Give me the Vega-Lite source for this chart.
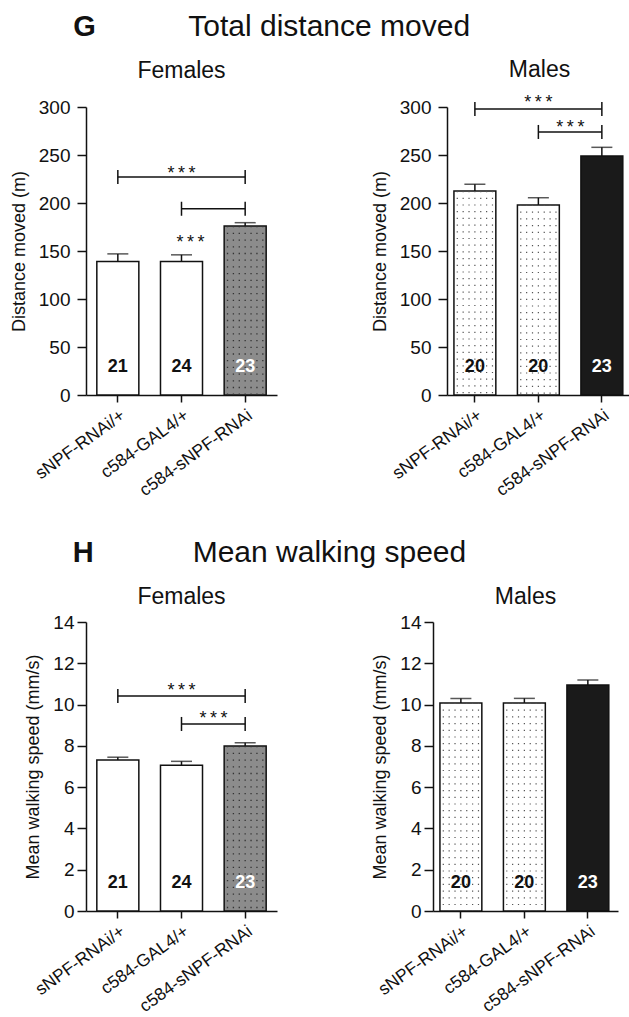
{
 "$schema": "https://vega.github.io/schema/vega-lite/v6.json",
 "padding": {"left": 10, "top": 11, "right": 0, "bottom": 0},
 "config": {
  "font": "Liberation Sans",
  "view": {"stroke": null},
  "axis": {"domainColor": "#111", "domainWidth": 1.5, "tickColor": "#111", "tickWidth": 1.5, "labelColor": "#111", "titleColor": "#111", "labelFont": "Liberation Sans", "titleFont": "Liberation Sans", "grid": false, "titleFontWeight": "normal"},
  "axisX": {"labelAngle": -36, "labelAlign": "right", "labelBaseline": "top", "labelFontSize": 17.5, "labelPadding": 4, "tickSize": 7, "labelLimit": 0, "labelOverlap": false},
  "axisY": {"labelFontSize": 19, "titleFontSize": 18, "labelPadding": 3, "titlePadding": 10},
  "title": {"font": "Liberation Sans", "color": "#111", "fontWeight": "normal"},
  "text": {"font": "Liberation Sans"}
 },
 "spacing": 38,
 "resolve": {"scale": {"color": "independent"}},
 "vconcat": [
  {
   "title": {"text": "G", "anchor": "start", "fontSize": 29, "fontWeight": "bold", "dx": 63, "dy": 30, "offset": 0},
   "resolve": {"scale": {"color": "independent"}},
   "vconcat": [
    {
     "title": {"text": "Total distance moved", "fontSize": 30, "anchor": "middle", "dx": 8, "offset": 17},
     "spacing": 94,
     "resolve": {"scale": {"color": "independent"}},
     "hconcat": [
      {
       "width": 191, "height": 288,
       "title": {"text": "Females", "fontSize": 23, "offset": 15, "frame": "group"},
       "data": {"values": [
        {"g": "sNPF-RNAi/+", "mean": 139, "upper": 147, "n": "21"},
        {"g": "c584-GAL4/+", "mean": 139, "upper": 146, "n": "24"},
        {"g": "c584-sNPF-RNAi", "mean": 176, "upper": 179.5, "n": "23"}
       ]},
       "encoding": {"x": {"field": "g", "type": "nominal", "scale": {"domain": ["sNPF-RNAi/+", "c584-GAL4/+", "c584-sNPF-RNAi"], "paddingInner": 0.34, "paddingOuter": 0.17}, "axis": {"title": null}}},
       "layer": [
        {"mark": {"type": "bar", "stroke": "#111", "strokeWidth": 1.5},
         "encoding": {
          "y": {"field": "mean", "type": "quantitative", "scale": {"domain": [0, 300], "nice": false},
                "axis": {"title": "Distance moved (m)", "values": [0, 25, 50, 75, 100, 125, 150, 175, 200, 225, 250, 275, 300], "labelExpr": "datum.value % 50 === 0 ? datum.label : ''", "tickSize": {"condition": {"test": "datum.value % 50 === 0", "value": 9}, "value": 5}, "labelPadding": 7}},
          "color": {"field": "g", "type": "nominal", "scale": {"domain": ["sNPF-RNAi/+", "c584-GAL4/+", "c584-sNPF-RNAi"], "range": ["#ffffff", "#ffffff", "#8c8c8c"]}, "legend": null}}},
        {"transform": [{"filter": "datum.g === 'c584-sNPF-RNAi'"}], "mark": {"type": "rule", "color": "#333", "strokeWidth": 1.3, "strokeDash": [1.3, 5.4]}, "encoding": {"x": {"field": "g", "type": "nominal", "bandPosition": 0.08}, "y": {"field": "mean", "type": "quantitative"}, "y2": {"datum": 0}}},
        {"transform": [{"filter": "datum.g === 'c584-sNPF-RNAi'"}], "mark": {"type": "rule", "color": "#333", "strokeWidth": 1.3, "strokeDash": [1.3, 5.4]}, "encoding": {"x": {"field": "g", "type": "nominal", "bandPosition": 0.22}, "y": {"field": "mean", "type": "quantitative"}, "y2": {"datum": 0}}},
        {"transform": [{"filter": "datum.g === 'c584-sNPF-RNAi'"}], "mark": {"type": "rule", "color": "#333", "strokeWidth": 1.3, "strokeDash": [1.3, 5.4]}, "encoding": {"x": {"field": "g", "type": "nominal", "bandPosition": 0.36}, "y": {"field": "mean", "type": "quantitative"}, "y2": {"datum": 0}}},
        {"transform": [{"filter": "datum.g === 'c584-sNPF-RNAi'"}], "mark": {"type": "rule", "color": "#333", "strokeWidth": 1.3, "strokeDash": [1.3, 5.4]}, "encoding": {"x": {"field": "g", "type": "nominal", "bandPosition": 0.5}, "y": {"field": "mean", "type": "quantitative"}, "y2": {"datum": 0}}},
        {"transform": [{"filter": "datum.g === 'c584-sNPF-RNAi'"}], "mark": {"type": "rule", "color": "#333", "strokeWidth": 1.3, "strokeDash": [1.3, 5.4]}, "encoding": {"x": {"field": "g", "type": "nominal", "bandPosition": 0.64}, "y": {"field": "mean", "type": "quantitative"}, "y2": {"datum": 0}}},
        {"transform": [{"filter": "datum.g === 'c584-sNPF-RNAi'"}], "mark": {"type": "rule", "color": "#333", "strokeWidth": 1.3, "strokeDash": [1.3, 5.4]}, "encoding": {"x": {"field": "g", "type": "nominal", "bandPosition": 0.78}, "y": {"field": "mean", "type": "quantitative"}, "y2": {"datum": 0}}},
        {"transform": [{"filter": "datum.g === 'c584-sNPF-RNAi'"}], "mark": {"type": "rule", "color": "#333", "strokeWidth": 1.3, "strokeDash": [1.3, 5.4]}, "encoding": {"x": {"field": "g", "type": "nominal", "bandPosition": 0.92}, "y": {"field": "mean", "type": "quantitative"}, "y2": {"datum": 0}}},
        {"mark": {"type": "rule", "color": "#111", "strokeWidth": 1.5}, "encoding": {"y": {"field": "mean", "type": "quantitative"}, "y2": {"field": "upper"}}},
        {"mark": {"type": "tick", "color": "#111", "thickness": 1.5, "size": 21}, "encoding": {"y": {"field": "upper", "type": "quantitative"}}},
        {"mark": {"type": "text", "fontSize": 18, "fontWeight": "bold", "baseline": "middle"}, "encoding": {"y": {"datum": 29, "type": "quantitative"}, "text": {"field": "n"}, "color": {"condition": {"test": "datum.g === 'c584-sNPF-RNAi'", "value": "#ffffff"}, "value": "#111"}}},
        {"data": {"values": [{"g": "sNPF-RNAi/+", "g2": "c584-sNPF-RNAi", "y": 227}, {"g": "c584-GAL4/+", "g2": "c584-sNPF-RNAi", "y": 194}]},
         "mark": {"type": "rule", "color": "#111", "strokeWidth": 1.5}, "encoding": {"x": {"field": "g", "type": "nominal"}, "x2": {"field": "g2"}, "y": {"field": "y", "type": "quantitative"}}},
        {"data": {"values": [{"g": "sNPF-RNAi/+", "lo": 219.7, "hi": 234.3}, {"g": "c584-sNPF-RNAi", "lo": 219.7, "hi": 234.3}, {"g": "c584-GAL4/+", "lo": 186.7, "hi": 201.3}, {"g": "c584-sNPF-RNAi", "lo": 186.7, "hi": 201.3}]},
         "mark": {"type": "rule", "color": "#111", "strokeWidth": 1.5}, "encoding": {"x": {"field": "g", "type": "nominal"}, "y": {"field": "lo", "type": "quantitative"}, "y2": {"field": "hi"}}},
        {"data": {"values": [{"g": "c584-GAL4/+", "y": 225}]},
         "mark": {"type": "text", "text": "*\u2009*\u2009*", "fontSize": 18, "baseline": "alphabetic", "color": "#111"}, "encoding": {"x": {"field": "g", "type": "nominal"}, "y": {"field": "y", "type": "quantitative"}}},
        {"data": {"values": [{"g": "c584-GAL4/+", "y": 153}]},
         "mark": {"type": "text", "text": "*\u2009*\u2009*", "fontSize": 18, "baseline": "alphabetic", "color": "#111", "dx": 9}, "encoding": {"x": {"field": "g", "type": "nominal"}, "y": {"field": "y", "type": "quantitative"}}}
       ]
      },
      {
       "width": 185, "height": 288,
       "title": {"text": "Males", "fontSize": 23, "offset": 12, "frame": "group"},
       "data": {"values": [
        {"g": "sNPF-RNAi/+", "mean": 212.5, "upper": 219.5, "n": "20"},
        {"g": "c584-GAL4/+", "mean": 198, "upper": 205.5, "n": "20"},
        {"g": "c584-sNPF-RNAi", "mean": 249, "upper": 258, "n": "23"}
       ]},
       "encoding": {"x": {"field": "g", "type": "nominal", "scale": {"domain": ["sNPF-RNAi/+", "c584-GAL4/+", "c584-sNPF-RNAi"], "paddingInner": 0.34, "paddingOuter": 0.127, "align": 0.43}, "axis": {"title": null}}},
       "layer": [
        {"mark": {"type": "bar", "stroke": "#111", "strokeWidth": 1.5},
         "encoding": {
          "y": {"field": "mean", "type": "quantitative", "scale": {"domain": [0, 300], "nice": false},
                "axis": {"title": "Distance moved (m)", "values": [0, 25, 50, 75, 100, 125, 150, 175, 200, 225, 250, 275, 300], "labelExpr": "datum.value % 50 === 0 ? datum.label : ''", "tickSize": {"condition": {"test": "datum.value % 50 === 0", "value": 9}, "value": 5}, "labelPadding": 7}},
          "color": {"field": "g", "type": "nominal", "scale": {"domain": ["sNPF-RNAi/+", "c584-GAL4/+", "c584-sNPF-RNAi"], "range": ["#ffffff", "#ffffff", "#1a1a1a"]}, "legend": null}}},
        {"transform": [{"filter": "datum.g !== 'c584-sNPF-RNAi'"}], "mark": {"type": "rule", "color": "#555", "strokeWidth": 1.2, "strokeDash": [1.2, 5.5]}, "encoding": {"x": {"field": "g", "type": "nominal", "bandPosition": 0.08}, "y": {"field": "mean", "type": "quantitative"}, "y2": {"datum": 0}}},
        {"transform": [{"filter": "datum.g !== 'c584-sNPF-RNAi'"}], "mark": {"type": "rule", "color": "#555", "strokeWidth": 1.2, "strokeDash": [1.2, 5.5]}, "encoding": {"x": {"field": "g", "type": "nominal", "bandPosition": 0.22}, "y": {"field": "mean", "type": "quantitative"}, "y2": {"datum": 0}}},
        {"transform": [{"filter": "datum.g !== 'c584-sNPF-RNAi'"}], "mark": {"type": "rule", "color": "#555", "strokeWidth": 1.2, "strokeDash": [1.2, 5.5]}, "encoding": {"x": {"field": "g", "type": "nominal", "bandPosition": 0.36}, "y": {"field": "mean", "type": "quantitative"}, "y2": {"datum": 0}}},
        {"transform": [{"filter": "datum.g !== 'c584-sNPF-RNAi'"}], "mark": {"type": "rule", "color": "#555", "strokeWidth": 1.2, "strokeDash": [1.2, 5.5]}, "encoding": {"x": {"field": "g", "type": "nominal", "bandPosition": 0.5}, "y": {"field": "mean", "type": "quantitative"}, "y2": {"datum": 0}}},
        {"transform": [{"filter": "datum.g !== 'c584-sNPF-RNAi'"}], "mark": {"type": "rule", "color": "#555", "strokeWidth": 1.2, "strokeDash": [1.2, 5.5]}, "encoding": {"x": {"field": "g", "type": "nominal", "bandPosition": 0.64}, "y": {"field": "mean", "type": "quantitative"}, "y2": {"datum": 0}}},
        {"transform": [{"filter": "datum.g !== 'c584-sNPF-RNAi'"}], "mark": {"type": "rule", "color": "#555", "strokeWidth": 1.2, "strokeDash": [1.2, 5.5]}, "encoding": {"x": {"field": "g", "type": "nominal", "bandPosition": 0.78}, "y": {"field": "mean", "type": "quantitative"}, "y2": {"datum": 0}}},
        {"transform": [{"filter": "datum.g !== 'c584-sNPF-RNAi'"}], "mark": {"type": "rule", "color": "#555", "strokeWidth": 1.2, "strokeDash": [1.2, 5.5]}, "encoding": {"x": {"field": "g", "type": "nominal", "bandPosition": 0.92}, "y": {"field": "mean", "type": "quantitative"}, "y2": {"datum": 0}}},
        {"mark": {"type": "rule", "color": "#111", "strokeWidth": 1.5}, "encoding": {"y": {"field": "mean", "type": "quantitative"}, "y2": {"field": "upper"}}},
        {"mark": {"type": "tick", "color": "#111", "thickness": 1.5, "size": 21}, "encoding": {"y": {"field": "upper", "type": "quantitative"}}},
        {"mark": {"type": "text", "fontSize": 18, "fontWeight": "bold", "baseline": "middle"}, "encoding": {"y": {"datum": 29, "type": "quantitative"}, "text": {"field": "n"}, "color": {"condition": {"test": "datum.g === 'c584-sNPF-RNAi'", "value": "#ffffff"}, "value": "#111"}}},
        {"data": {"values": [{"g": "sNPF-RNAi/+", "g2": "c584-sNPF-RNAi", "y": 298}, {"g": "c584-GAL4/+", "g2": "c584-sNPF-RNAi", "y": 274}]},
         "mark": {"type": "rule", "color": "#111", "strokeWidth": 1.5}, "encoding": {"x": {"field": "g", "type": "nominal"}, "x2": {"field": "g2"}, "y": {"field": "y", "type": "quantitative"}}},
        {"data": {"values": [{"g": "sNPF-RNAi/+", "lo": 290.7, "hi": 305.3}, {"g": "c584-sNPF-RNAi", "lo": 290.7, "hi": 305.3}, {"g": "c584-GAL4/+", "lo": 266.7, "hi": 281.3}, {"g": "c584-sNPF-RNAi", "lo": 266.7, "hi": 281.3}]},
         "mark": {"type": "rule", "color": "#111", "strokeWidth": 1.5}, "encoding": {"x": {"field": "g", "type": "nominal"}, "y": {"field": "lo", "type": "quantitative"}, "y2": {"field": "hi"}}},
        {"data": {"values": [{"g": "c584-GAL4/+", "y": 299}]},
         "mark": {"type": "text", "text": "*\u2009*\u2009*", "fontSize": 18, "baseline": "alphabetic", "color": "#111"}, "encoding": {"x": {"field": "g", "type": "nominal"}, "y": {"field": "y", "type": "quantitative"}}},
        {"data": {"values": [{"g": "c584-GAL4/+", "y": 273}]},
         "mark": {"type": "text", "text": "*\u2009*\u2009*", "fontSize": 18, "baseline": "alphabetic", "color": "#111", "dx": 32}, "encoding": {"x": {"field": "g", "type": "nominal"}, "y": {"field": "y", "type": "quantitative"}}}
       ]
      }
     ]
    }
   ]
  },
  {
   "title": {"text": "H", "anchor": "start", "fontSize": 29, "fontWeight": "bold", "dx": 48, "dy": 30, "offset": 0},
   "resolve": {"scale": {"color": "independent"}},
   "vconcat": [
    {
     "title": {"text": "Mean walking speed", "fontSize": 30, "anchor": "middle", "dx": 8, "offset": 18},
     "spacing": 94,
     "resolve": {"scale": {"color": "independent"}},
     "hconcat": [
      {
       "width": 191, "height": 289,
       "title": {"text": "Females", "fontSize": 23, "offset": 4, "frame": "group"},
       "data": {"values": [
        {"g": "sNPF-RNAi/+", "mean": 7.32, "upper": 7.45, "n": "21"},
        {"g": "c584-GAL4/+", "mean": 7.06, "upper": 7.25, "n": "24"},
        {"g": "c584-sNPF-RNAi", "mean": 7.99, "upper": 8.15, "n": "23"}
       ]},
       "encoding": {"x": {"field": "g", "type": "nominal", "scale": {"domain": ["sNPF-RNAi/+", "c584-GAL4/+", "c584-sNPF-RNAi"], "paddingInner": 0.34, "paddingOuter": 0.17}, "axis": {"title": null}}},
       "layer": [
        {"mark": {"type": "bar", "stroke": "#111", "strokeWidth": 1.5},
         "encoding": {
          "y": {"field": "mean", "type": "quantitative", "scale": {"domain": [0, 14], "nice": false},
                "axis": {"title": "Mean walking speed (mm/s)", "values": [0, 2, 4, 6, 8, 10, 12, 14], "tickSize": 9}},
          "color": {"field": "g", "type": "nominal", "scale": {"domain": ["sNPF-RNAi/+", "c584-GAL4/+", "c584-sNPF-RNAi"], "range": ["#ffffff", "#ffffff", "#8c8c8c"]}, "legend": null}}},
        {"transform": [{"filter": "datum.g === 'c584-sNPF-RNAi'"}], "mark": {"type": "rule", "color": "#333", "strokeWidth": 1.3, "strokeDash": [1.3, 5.4]}, "encoding": {"x": {"field": "g", "type": "nominal", "bandPosition": 0.08}, "y": {"field": "mean", "type": "quantitative"}, "y2": {"datum": 0}}},
        {"transform": [{"filter": "datum.g === 'c584-sNPF-RNAi'"}], "mark": {"type": "rule", "color": "#333", "strokeWidth": 1.3, "strokeDash": [1.3, 5.4]}, "encoding": {"x": {"field": "g", "type": "nominal", "bandPosition": 0.22}, "y": {"field": "mean", "type": "quantitative"}, "y2": {"datum": 0}}},
        {"transform": [{"filter": "datum.g === 'c584-sNPF-RNAi'"}], "mark": {"type": "rule", "color": "#333", "strokeWidth": 1.3, "strokeDash": [1.3, 5.4]}, "encoding": {"x": {"field": "g", "type": "nominal", "bandPosition": 0.36}, "y": {"field": "mean", "type": "quantitative"}, "y2": {"datum": 0}}},
        {"transform": [{"filter": "datum.g === 'c584-sNPF-RNAi'"}], "mark": {"type": "rule", "color": "#333", "strokeWidth": 1.3, "strokeDash": [1.3, 5.4]}, "encoding": {"x": {"field": "g", "type": "nominal", "bandPosition": 0.5}, "y": {"field": "mean", "type": "quantitative"}, "y2": {"datum": 0}}},
        {"transform": [{"filter": "datum.g === 'c584-sNPF-RNAi'"}], "mark": {"type": "rule", "color": "#333", "strokeWidth": 1.3, "strokeDash": [1.3, 5.4]}, "encoding": {"x": {"field": "g", "type": "nominal", "bandPosition": 0.64}, "y": {"field": "mean", "type": "quantitative"}, "y2": {"datum": 0}}},
        {"transform": [{"filter": "datum.g === 'c584-sNPF-RNAi'"}], "mark": {"type": "rule", "color": "#333", "strokeWidth": 1.3, "strokeDash": [1.3, 5.4]}, "encoding": {"x": {"field": "g", "type": "nominal", "bandPosition": 0.78}, "y": {"field": "mean", "type": "quantitative"}, "y2": {"datum": 0}}},
        {"transform": [{"filter": "datum.g === 'c584-sNPF-RNAi'"}], "mark": {"type": "rule", "color": "#333", "strokeWidth": 1.3, "strokeDash": [1.3, 5.4]}, "encoding": {"x": {"field": "g", "type": "nominal", "bandPosition": 0.92}, "y": {"field": "mean", "type": "quantitative"}, "y2": {"datum": 0}}},
        {"mark": {"type": "rule", "color": "#111", "strokeWidth": 1.5}, "encoding": {"y": {"field": "mean", "type": "quantitative"}, "y2": {"field": "upper"}}},
        {"mark": {"type": "tick", "color": "#111", "thickness": 1.5, "size": 21}, "encoding": {"y": {"field": "upper", "type": "quantitative"}}},
        {"mark": {"type": "text", "fontSize": 18, "fontWeight": "bold", "baseline": "middle"}, "encoding": {"y": {"datum": 1.35, "type": "quantitative"}, "text": {"field": "n"}, "color": {"condition": {"test": "datum.g === 'c584-sNPF-RNAi'", "value": "#ffffff"}, "value": "#111"}}},
        {"data": {"values": [{"g": "sNPF-RNAi/+", "g2": "c584-sNPF-RNAi", "y": 10.42}, {"g": "c584-GAL4/+", "g2": "c584-sNPF-RNAi", "y": 9.06}]},
         "mark": {"type": "rule", "color": "#111", "strokeWidth": 1.5}, "encoding": {"x": {"field": "g", "type": "nominal"}, "x2": {"field": "g2"}, "y": {"field": "y", "type": "quantitative"}}},
        {"data": {"values": [{"g": "sNPF-RNAi/+", "lo": 10.08, "hi": 10.76}, {"g": "c584-sNPF-RNAi", "lo": 10.08, "hi": 10.76}, {"g": "c584-GAL4/+", "lo": 8.72, "hi": 9.4}, {"g": "c584-sNPF-RNAi", "lo": 8.72, "hi": 9.4}]},
         "mark": {"type": "rule", "color": "#111", "strokeWidth": 1.5}, "encoding": {"x": {"field": "g", "type": "nominal"}, "y": {"field": "lo", "type": "quantitative"}, "y2": {"field": "hi"}}},
        {"data": {"values": [{"g": "c584-GAL4/+", "y": 10.42}]},
         "mark": {"type": "text", "text": "*\u2009*\u2009*", "fontSize": 18, "baseline": "alphabetic", "color": "#111"}, "encoding": {"x": {"field": "g", "type": "nominal"}, "y": {"field": "y", "type": "quantitative"}}},
        {"data": {"values": [{"g": "c584-GAL4/+", "y": 9.06}]},
         "mark": {"type": "text", "text": "*\u2009*\u2009*", "fontSize": 18, "baseline": "alphabetic", "color": "#111", "dx": 32}, "encoding": {"x": {"field": "g", "type": "nominal"}, "y": {"field": "y", "type": "quantitative"}}}
       ]
      },
      {
       "width": 185, "height": 289,
       "title": {"text": "Males", "fontSize": 23, "offset": 4, "frame": "group"},
       "data": {"values": [
        {"g": "sNPF-RNAi/+", "mean": 10.08, "upper": 10.29, "n": "20"},
        {"g": "c584-GAL4/+", "mean": 10.08, "upper": 10.3, "n": "20"},
        {"g": "c584-sNPF-RNAi", "mean": 10.95, "upper": 11.19, "n": "23"}
       ]},
       "encoding": {"x": {"field": "g", "type": "nominal", "scale": {"domain": ["sNPF-RNAi/+", "c584-GAL4/+", "c584-sNPF-RNAi"], "paddingInner": 0.34, "paddingOuter": 0.127, "align": 0.43}, "axis": {"title": null}}},
       "layer": [
        {"mark": {"type": "bar", "stroke": "#111", "strokeWidth": 1.5},
         "encoding": {
          "y": {"field": "mean", "type": "quantitative", "scale": {"domain": [0, 14], "nice": false},
                "axis": {"title": "Mean walking speed (mm/s)", "values": [0, 2, 4, 6, 8, 10, 12, 14], "tickSize": 9}},
          "color": {"field": "g", "type": "nominal", "scale": {"domain": ["sNPF-RNAi/+", "c584-GAL4/+", "c584-sNPF-RNAi"], "range": ["#ffffff", "#ffffff", "#1a1a1a"]}, "legend": null}}},
        {"transform": [{"filter": "datum.g !== 'c584-sNPF-RNAi'"}], "mark": {"type": "rule", "color": "#555", "strokeWidth": 1.2, "strokeDash": [1.2, 5.5]}, "encoding": {"x": {"field": "g", "type": "nominal", "bandPosition": 0.08}, "y": {"field": "mean", "type": "quantitative"}, "y2": {"datum": 0}}},
        {"transform": [{"filter": "datum.g !== 'c584-sNPF-RNAi'"}], "mark": {"type": "rule", "color": "#555", "strokeWidth": 1.2, "strokeDash": [1.2, 5.5]}, "encoding": {"x": {"field": "g", "type": "nominal", "bandPosition": 0.22}, "y": {"field": "mean", "type": "quantitative"}, "y2": {"datum": 0}}},
        {"transform": [{"filter": "datum.g !== 'c584-sNPF-RNAi'"}], "mark": {"type": "rule", "color": "#555", "strokeWidth": 1.2, "strokeDash": [1.2, 5.5]}, "encoding": {"x": {"field": "g", "type": "nominal", "bandPosition": 0.36}, "y": {"field": "mean", "type": "quantitative"}, "y2": {"datum": 0}}},
        {"transform": [{"filter": "datum.g !== 'c584-sNPF-RNAi'"}], "mark": {"type": "rule", "color": "#555", "strokeWidth": 1.2, "strokeDash": [1.2, 5.5]}, "encoding": {"x": {"field": "g", "type": "nominal", "bandPosition": 0.5}, "y": {"field": "mean", "type": "quantitative"}, "y2": {"datum": 0}}},
        {"transform": [{"filter": "datum.g !== 'c584-sNPF-RNAi'"}], "mark": {"type": "rule", "color": "#555", "strokeWidth": 1.2, "strokeDash": [1.2, 5.5]}, "encoding": {"x": {"field": "g", "type": "nominal", "bandPosition": 0.64}, "y": {"field": "mean", "type": "quantitative"}, "y2": {"datum": 0}}},
        {"transform": [{"filter": "datum.g !== 'c584-sNPF-RNAi'"}], "mark": {"type": "rule", "color": "#555", "strokeWidth": 1.2, "strokeDash": [1.2, 5.5]}, "encoding": {"x": {"field": "g", "type": "nominal", "bandPosition": 0.78}, "y": {"field": "mean", "type": "quantitative"}, "y2": {"datum": 0}}},
        {"transform": [{"filter": "datum.g !== 'c584-sNPF-RNAi'"}], "mark": {"type": "rule", "color": "#555", "strokeWidth": 1.2, "strokeDash": [1.2, 5.5]}, "encoding": {"x": {"field": "g", "type": "nominal", "bandPosition": 0.92}, "y": {"field": "mean", "type": "quantitative"}, "y2": {"datum": 0}}},
        {"mark": {"type": "rule", "color": "#111", "strokeWidth": 1.5}, "encoding": {"y": {"field": "mean", "type": "quantitative"}, "y2": {"field": "upper"}}},
        {"mark": {"type": "tick", "color": "#111", "thickness": 1.5, "size": 21}, "encoding": {"y": {"field": "upper", "type": "quantitative"}}},
        {"mark": {"type": "text", "fontSize": 18, "fontWeight": "bold", "baseline": "middle"}, "encoding": {"y": {"datum": 1.35, "type": "quantitative"}, "text": {"field": "n"}, "color": {"condition": {"test": "datum.g === 'c584-sNPF-RNAi'", "value": "#ffffff"}, "value": "#111"}}}
       ]
      }
     ]
    }
   ]
  }
 ]
}
